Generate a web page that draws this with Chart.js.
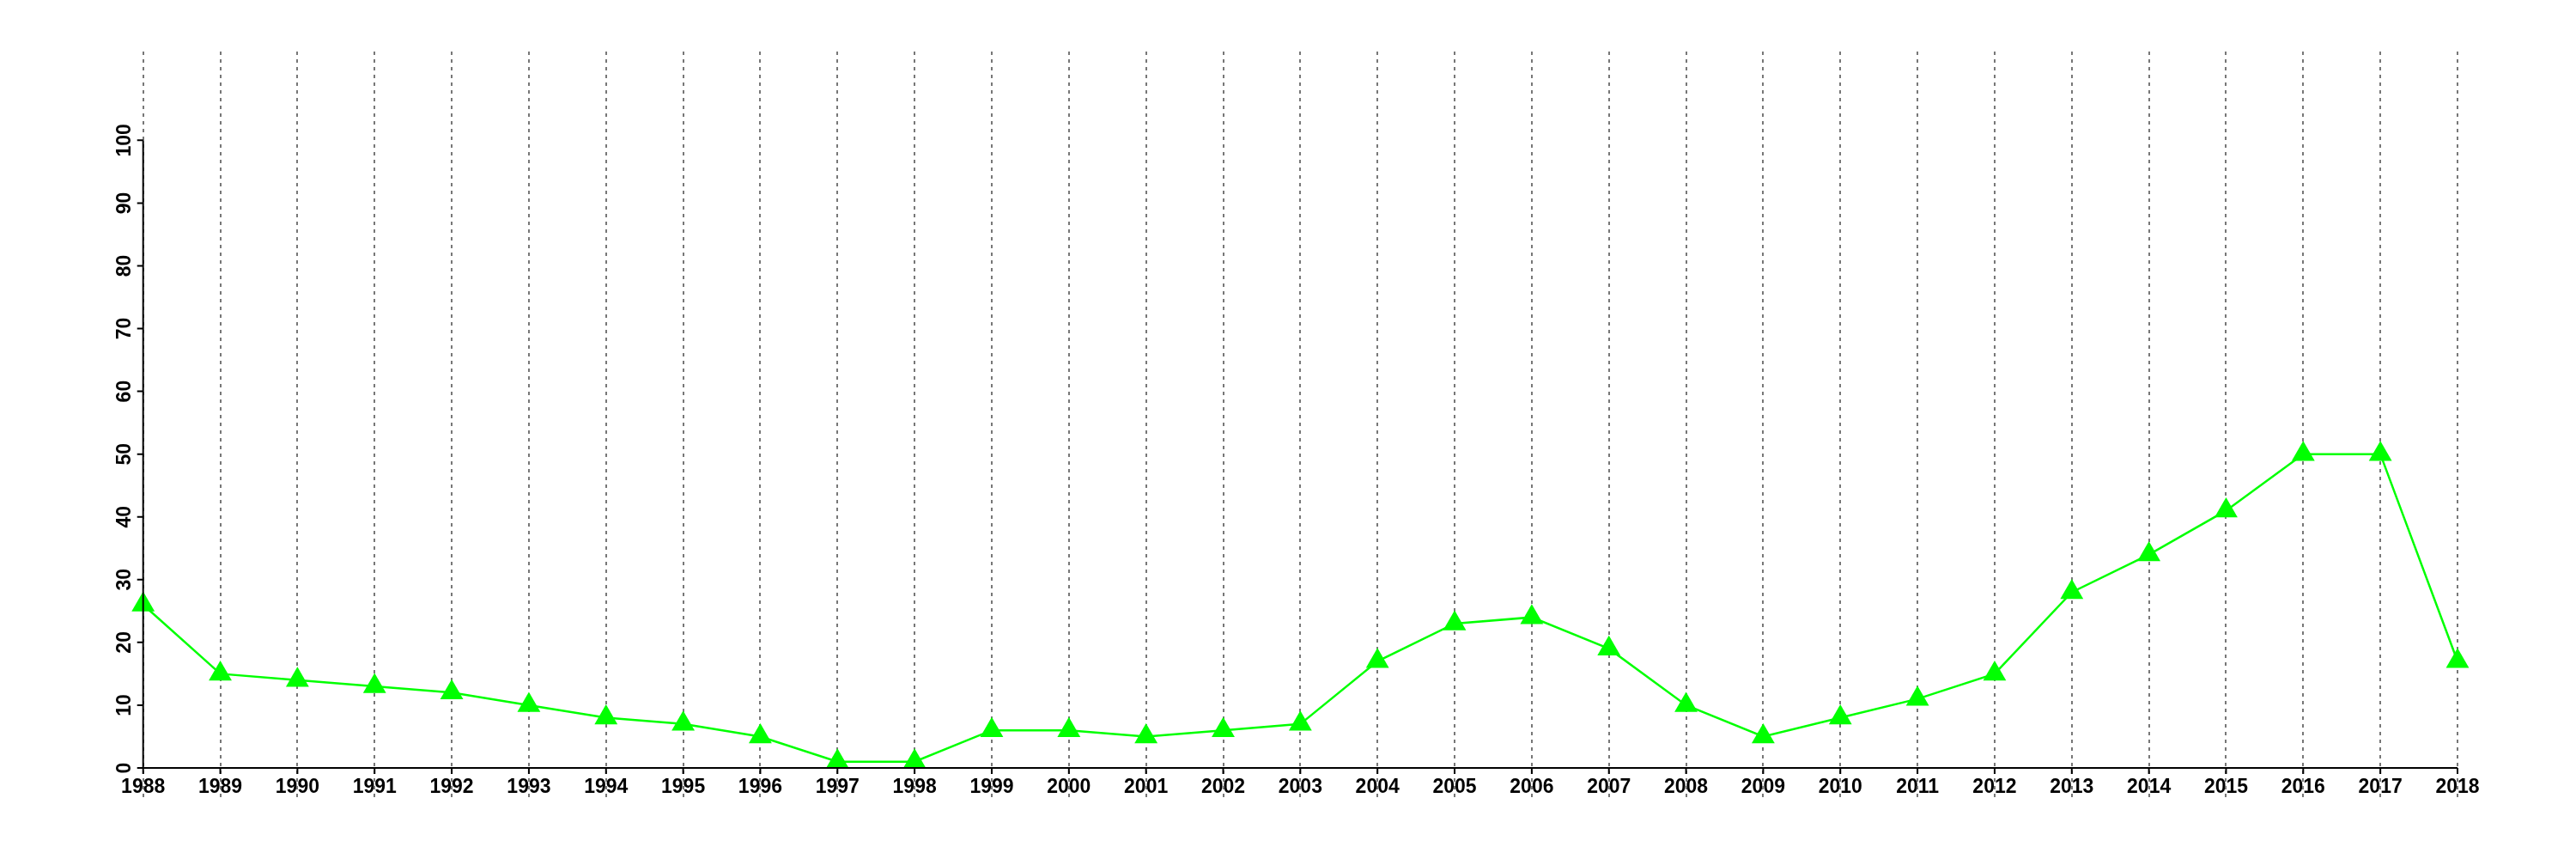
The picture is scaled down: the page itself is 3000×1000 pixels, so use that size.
<!DOCTYPE html>
<html>
<head>
<meta charset="utf-8">
<script src="https://cdn.jsdelivr.net/npm/chart.js@4/dist/chart.umd.min.js"></script>
<style>
  html, body { margin: 0; padding: 0; background: #fff; }
  #wrap { width: 3000px; height: 1000px; }
</style>
</head>
<body>
<div id="wrap"><canvas id="chart" width="3000" height="1000"></canvas></div>
<script>
        // Chart data
        const years = ['1988', '1989', '1990', '1991', '1992', '1993', '1994', '1995', '1996', '1997',
            '1998', '1999', '2000', '2001', '2002', '2003', '2004', '2005', '2006', '2007',
            '2008', '2009', '2010', '2011', '2012', '2013', '2014', '2015', '2016', '2017', '2018'];
        const values = [26, 15, 14, 13, 12, 10, 8, 7, 5, 1,
            1, 6, 6, 5, 6, 7, 17, 23, 24, 19,
            10, 5, 8, 11, 15, 28, 34, 41, 50, 50, 17];
        const yTicks = [0, 10, 20, 30, 40, 50, 60, 70, 80, 90, 100];

        const FONT = 'bold 23px "Liberation Sans", Arial, sans-serif';

        // dotted verticals, axis lines, tick marks, rotated y labels
        const framePlugin = {
            id: 'frame',
            beforeDatasetsDraw(chart) {
                const ctx = chart.ctx;
                const x = chart.scales.x;
                ctx.save();
                ctx.strokeStyle = '#777';
                ctx.lineWidth = 2;
                ctx.setLineDash([4, 5]);
                years.forEach((_, i) => {
                    const px = Math.round(x.getPixelForTick(i));
                    ctx.beginPath();
                    ctx.moveTo(px, 60);
                    ctx.lineTo(px, 928);
                    ctx.stroke();
                });
                ctx.restore();
            },
            afterDraw(chart) {
                const ctx = chart.ctx;
                const x = chart.scales.x;
                const y = chart.scales.y;
                const left = x.getPixelForTick(0);
                const right = x.getPixelForTick(years.length - 1);
                const y0 = y.getPixelForValue(0);
                const yTop = y.getPixelForValue(100);
                ctx.save();
                ctx.strokeStyle = '#000';
                ctx.lineWidth = 2;
                ctx.beginPath();
                ctx.moveTo(left, yTop);
                ctx.lineTo(left, y0);
                ctx.moveTo(left - 7, y0);
                ctx.lineTo(right, y0);
                yTicks.forEach(v => {
                    const py = y.getPixelForValue(v);
                    ctx.moveTo(left - 7, py);
                    ctx.lineTo(left, py);
                });
                years.forEach((_, i) => {
                    const px = x.getPixelForTick(i);
                    ctx.moveTo(px, y0);
                    ctx.lineTo(px, y0 + 7);
                });
                ctx.stroke();

                ctx.fillStyle = '#000';
                ctx.font = FONT;
                ctx.textAlign = 'center';
                ctx.textBaseline = 'alphabetic';
                yTicks.forEach(v => {
                    const py = y.getPixelForValue(v);
                    ctx.save();
                    ctx.translate(left - 15, py);
                    ctx.rotate(-Math.PI / 2);
                    ctx.fillText(String(v), 0, 0);
                    ctx.restore();
                });
                ctx.restore();
            }
        };

        const ctx = document.getElementById('chart').getContext('2d');
        new Chart(ctx, {
            type: 'line',
            data: {
                labels: years,
                datasets: [{
                    data: values,
                    borderColor: '#00ff00',
                    backgroundColor: '#00ff00',
                    borderWidth: 2.5,
                    pointStyle: 'triangle',
                    pointRadius: 15.5,
                    pointBorderWidth: 0,
                    pointBackgroundColor: '#00ff00',
                    tension: 0,
                    fill: false
                }]
            },
            options: {
                responsive: false,
                animation: false,
                layout: { padding: { left: 0, top: 60, right: 138, bottom: 0 } },
                plugins: {
                    legend: { display: false },
                    tooltip: { enabled: false }
                },
                scales: {
                    x: {
                        type: 'category',
                        offset: false,
                        grid: { display: false },
                        border: { display: false },
                        ticks: {
                            color: '#000',
                            font: { family: '"Liberation Sans", Arial, sans-serif', size: 23, weight: 'bold' },
                            autoSkip: false,
                            maxRotation: 0,
                            minRotation: 0,
                            padding: 1
                        },
                        afterFit: scale => { scale.height = 106; }
                    },
                    y: {
                        min: 0,
                        max: 114.14,
                        grid: { display: false },
                        border: { display: false },
                        ticks: { display: false },
                        afterBuildTicks: scale => { scale.ticks = yTicks.map(v => ({ value: v })); },
                        afterFit: scale => { scale.width = 166.7; }
                    }
                }
            },
            plugins: [framePlugin]
        });
</script>
</body>
</html>
